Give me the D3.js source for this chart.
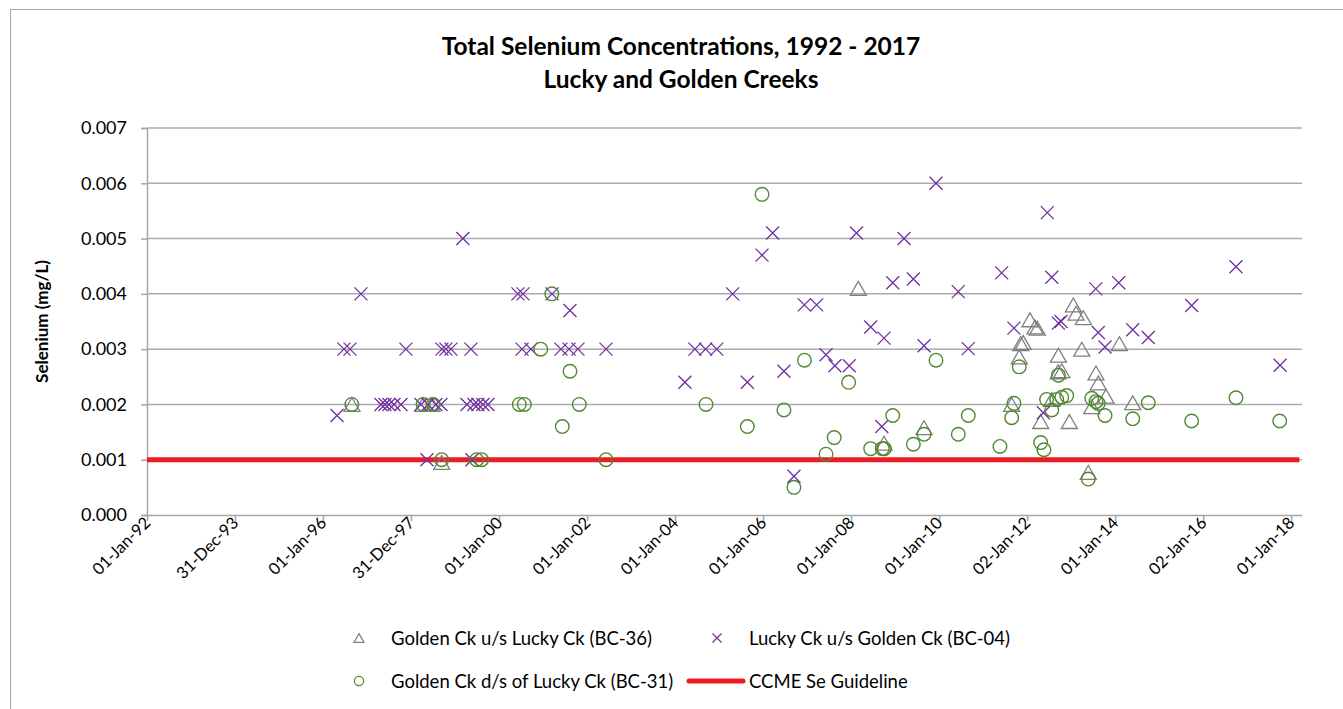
<!DOCTYPE html>
<html>
<head>
<meta charset="utf-8">
<script src="https://cdn.jsdelivr.net/npm/d3@7"></script>
<style>
body { margin: 0; background: #fff; }
text { font-family: Lato, "Open Sans", sans-serif; fill: #000; }
</style>
</head>
<body>
<div id="chart"></div>
<script>
// Golden Ck u/s Lucky Ck (BC-36)
var bc36Dates = ["1996-08-28","1998-04-10","1998-06-23","1998-09-12","2008-03-01","2008-10-01","2009-08-29",
  "2011-08-26","2011-10-28","2011-11-09","2011-11-30","2012-01-25","2012-03-07","2012-03-26","2012-04-23",
  "2012-07-24","2012-09-17","2012-09-15","2012-10-15","2012-12-17","2013-01-19","2013-02-11","2013-03-30",
  "2013-04-12","2013-05-23","2013-06-21","2013-07-26","2013-08-14","2013-10-17","2014-02-05","2014-05-27"];
var bc36Values = [0.002,0.002,0.002,0.00095,0.0041,0.0013,0.00158,
  0.002,0.00286,0.0031,0.00312,0.00353,0.0034,0.00338,0.00169,
  0.00209,0.00289,0.00259,0.00261,0.00169,0.0038,0.00365,0.003,
  0.00357,0.00077,0.00196,0.00257,0.00239,0.00215,0.0031,0.00203];

// Lucky Ck u/s Golden Ck (BC-04)
var bc04Dates = ["1996-04-26","1996-06-23","1996-08-12","1996-11-11","1997-04-26","1997-05-29","1997-07-01",
  "1997-08-12","1997-10-09","1997-11-19","1998-03-24","1998-05-13","1998-05-21","1998-07-26","1998-09-06",
  "1998-09-14","1998-10-17","1998-11-28","1999-03-07","1999-04-10","1999-05-13","1999-05-21","1999-06-07",
  "1999-07-10","1999-08-20","1999-10-01","2000-06-06","2000-07-18","2000-07-10","2000-09-22","2001-03-16",
  "2001-05-29","2001-08-04","2001-08-12","2001-10-17","2002-06-07","2004-03-23","2004-06-14","2004-09-11",
  "2004-12-12","2005-04-23","2005-08-23","2005-12-23","2006-03-21","2006-06-23","2006-09-14","2006-12-09",
  "2007-03-21","2007-06-07","2007-08-20","2007-12-17","2008-02-15","2008-06-12","2008-09-12","2008-10-01",
  "2008-12-12","2009-03-16","2009-06-01","2009-08-29","2009-12-06","2010-06-09","2010-08-31","2011-06-04",
  "2011-09-14","2012-05-15","2012-06-17","2012-07-24","2012-09-17","2012-10-09","2013-07-24","2013-08-14",
  "2013-10-09","2014-01-31","2014-05-27","2014-10-03","2015-09-28","2016-09-30","2017-10-01"];
var bc04Values = [0.0018,0.003,0.003,0.004,0.002,0.002,0.002,
  0.002,0.002,0.003,0.002,0.001,0.002,0.002,0.002,
  0.003,0.003,0.003,0.005,0.002,0.003,0.001,0.002,
  0.002,0.002,0.002,0.004,0.004,0.003,0.003,0.004,
  0.003,0.003,0.0037,0.003,0.003,0.0024,0.003,0.003,
  0.003,0.004,0.0024,0.0047,0.0051,0.0026,0.0007,0.0038,
  0.0038,0.0029,0.0027,0.0027,0.0051,0.0034,0.0016,0.0032,
  0.0042,0.005,0.00427,0.00306,0.006,0.00404,0.00301,0.00438,
  0.00338,0.00185,0.00547,0.0043,0.00347,0.0035,0.00409,0.0033,
  0.00304,0.0042,0.00335,0.00321,0.00379,0.00449,0.00271];

// Golden Ck d/s of Lucky Ck (BC-31)
var bc31Dates = ["1996-08-27","1998-04-11","1998-07-04","1998-09-12","1999-06-29","1999-08-10","2000-06-17",
  "2000-07-29","2000-12-12","2001-03-14","2001-06-09","2001-08-12","2001-10-28","2002-06-07","2004-09-14",
  "2005-08-23","2005-12-23","2006-06-23","2006-09-14","2006-12-10","2007-06-07","2007-08-14","2007-12-12",
  "2008-06-12","2008-09-16","2008-10-03","2008-12-12","2009-06-01","2009-08-29","2009-12-06","2010-06-09",
  "2010-08-31","2011-05-21","2011-08-26","2011-09-14","2011-10-28","2012-04-23","2012-05-20","2012-06-11",
  "2012-07-24","2012-09-03","2012-09-17","2012-10-15","2012-11-25","2013-05-23","2013-06-21","2013-07-26",
  "2013-08-14","2013-10-09","2014-05-27","2014-10-03","2015-09-28","2016-09-30","2017-09-28"];
var bc31Values = [0.002,0.002,0.002,0.001,0.001,0.001,0.002,
  0.002,0.003,0.004,0.0016,0.0026,0.002,0.001,0.002,
  0.0016,0.0058,0.0019,0.0005,0.0028,0.0011,0.0014,0.0024,
  0.0012,0.0012,0.0012,0.0018,0.00128,0.00146,0.0028,0.00146,
  0.0018,0.00124,0.00176,0.00202,0.00268,0.00131,0.00118,0.00209,
  0.0019,0.00209,0.00253,0.00213,0.00216,0.00065,0.00211,0.00205,
  0.00202,0.0018,0.00174,0.00203,0.0017,0.00212,0.0017];

// CCME Se Guideline
var guideDates = ["1992-01-01","2018-03-10"];
var guideValues = [0.001,0.001];

var xTickDates = ["1992-01-01","1993-12-31","1996-01-01","1997-12-31","2000-01-01","2002-01-01","2004-01-01",
  "2006-01-01","2008-01-01","2010-01-01","2012-01-02","2014-01-01","2016-01-02","2018-01-01"];
var xDomain = ["1992-01-01","2018-04-01"];
var yTicks = [0,0.001,0.002,0.003,0.004,0.005,0.006,0.007];

var W = 1343, H = 709;
var margin = {top: 128, right: 41, bottom: 194, left: 147};
var width = W - margin.left - margin.right,
    height = H - margin.top - margin.bottom;

var parse = d3.timeParse("%Y-%m-%d");
var fmt = d3.timeFormat("%d-%b-%y");

var x = d3.scaleTime().domain(xDomain.map(parse)).range([0, width]);
var y = d3.scaleLinear().domain([0, 0.007]).range([height, 0]);

function zip(dates, values) {
  return dates.map(function(d, i) { return {date: parse(d), value: values[i]}; });
}

var svg = d3.select("#chart").append("svg")
  .attr("width", W).attr("height", H);

// chart area border
svg.append("rect")
  .attr("x", 10.5).attr("y", 9.5)
  .attr("width", W).attr("height", H)
  .attr("fill", "none").attr("stroke", "#a6a6a6").attr("stroke-width", 1);

svg.append("text").attr("x", 681).attr("y", 55)
  .attr("text-anchor", "middle").attr("font-size", "24.5px").attr("font-weight", "bold")
  .text("Total Selenium Concentrations, 1992 - 2017");
svg.append("text").attr("x", 681).attr("y", 88)
  .attr("text-anchor", "middle").attr("font-size", "24.5px").attr("font-weight", "bold")
  .text("Lucky and Golden Creeks");

var g = svg.append("g")
  .attr("transform", "translate(" + margin.left + "," + margin.top + ")");

// gridlines
g.selectAll(".grid").data(yTicks.filter(function(d) { return d > 0; }))
  .enter().append("line")
  .attr("x1", 0).attr("x2", width)
  .attr("y1", function(d) { return y(d); }).attr("y2", function(d) { return y(d); })
  .attr("stroke", "#ababab").attr("stroke-width", 1.5);

// y axis
var yAxis = g.append("g")
  .call(d3.axisLeft(y).tickValues(yTicks).tickFormat(d3.format(".3f")).tickSize(6).tickPadding(14));
yAxis.select(".domain").attr("stroke", "#a6a6a6").attr("stroke-width", 1.5);
yAxis.selectAll(".tick line").attr("stroke", "#a6a6a6").attr("stroke-width", 1.5);
yAxis.selectAll("text").attr("font-size", "18px").attr("font-family", "Lato, sans-serif").attr("fill", "#000");

// x axis
var xAxis = g.append("g")
  .attr("transform", "translate(0," + height + ")")
  .call(d3.axisBottom(x).tickValues(xTickDates.map(parse)).tickFormat(fmt).tickSize(6).tickSizeOuter(0));
xAxis.select(".domain").attr("stroke", "#a6a6a6").attr("stroke-width", 1.5);
xAxis.selectAll(".tick line").attr("stroke", "#a6a6a6").attr("stroke-width", 1.5);
xAxis.selectAll("text")
  .attr("font-size", "16.5px").attr("font-family", "Lato, sans-serif").attr("fill", "#000")
  .attr("text-anchor", "end")
  .attr("dy", null)
  .attr("transform", "translate(1,6) rotate(-45)")
  .attr("y", 0).attr("x", 0)
  .attr("dominant-baseline", "middle");

// y axis title
svg.append("text")
  .attr("transform", "translate(48," + (margin.top + height / 2) + ") rotate(-90)")
  .attr("text-anchor", "middle").attr("font-size", "17px").attr("font-weight", "bold")
  .text("Selenium (mg/L)");

// guideline
var line = d3.line()
  .x(function(d) { return x(d.date); })
  .y(function(d) { return y(d.value); });
g.append("path").datum(zip(guideDates, guideValues))
  .attr("d", line).attr("fill", "none")
  .attr("stroke", "#ed1c24").attr("stroke-width", 5);

function triPath(s) {
  var h = s * Math.sqrt(3) / 2;
  return "M0," + (-h / 2) + "L" + (s / 2) + "," + (h / 2) + "L" + (-s / 2) + "," + (h / 2) + "Z";
}
function xPath(s) {
  var r = s / 2;
  return "M" + (-r) + "," + (-r) + "L" + r + "," + r + "M" + r + "," + (-r) + "L" + (-r) + "," + r;
}

// BC-36 triangles
g.selectAll(".bc36").data(zip(bc36Dates, bc36Values))
  .enter().append("path")
  .attr("transform", function(d) { return "translate(" + x(d.date) + "," + y(d.value) + ")"; })
  .attr("d", triPath(16))
  .attr("fill", "none").attr("stroke", "#7f7f7f").attr("stroke-width", 1.3);

// BC-04 crosses
g.selectAll(".bc04").data(zip(bc04Dates, bc04Values))
  .enter().append("path")
  .attr("transform", function(d) { return "translate(" + x(d.date) + "," + y(d.value) + ")"; })
  .attr("d", xPath(13))
  .attr("fill", "none").attr("stroke", "#7030a0").attr("stroke-width", 1.3);

// BC-31 circles
g.selectAll(".bc31").data(zip(bc31Dates, bc31Values))
  .enter().append("circle")
  .attr("cx", function(d) { return x(d.date); })
  .attr("cy", function(d) { return y(d.value); })
  .attr("r", 6.8)
  .attr("fill", "none").attr("stroke", "#4f8a32").attr("stroke-width", 1.4);

// legend
var legend = [
  {name: "Golden Ck u/s Lucky Ck (BC-36)", type: "tri", lx: 359, ly: 638},
  {name: "Lucky Ck u/s Golden Ck (BC-04)", type: "x", lx: 717, ly: 638},
  {name: "Golden Ck d/s of Lucky Ck (BC-31)", type: "circle", lx: 359, ly: 681},
  {name: "CCME Se Guideline", type: "line", lx: 717, ly: 681}
];
legend.forEach(function(l) {
  if (l.type == "tri") {
    svg.append("path").attr("transform", "translate(" + l.lx + "," + l.ly + ")")
      .attr("d", triPath(10)).attr("fill", "none").attr("stroke", "#7f7f7f").attr("stroke-width", 1.2);
  } else if (l.type == "x") {
    svg.append("path").attr("transform", "translate(" + l.lx + "," + l.ly + ")")
      .attr("d", xPath(9)).attr("fill", "none").attr("stroke", "#7030a0").attr("stroke-width", 1.2);
  } else if (l.type == "circle") {
    svg.append("circle").attr("cx", l.lx).attr("cy", l.ly).attr("r", 4.6)
      .attr("fill", "none").attr("stroke", "#4f8a32").attr("stroke-width", 1.2);
  } else {
    svg.append("line").attr("x1", l.lx - 28).attr("x2", l.lx + 26)
      .attr("y1", l.ly).attr("y2", l.ly)
      .attr("stroke", "#ed1c24").attr("stroke-width", 5).attr("stroke-linecap", "round");
  }
  svg.append("text").attr("x", l.lx + 32).attr("y", l.ly)
    .attr("dominant-baseline", "central").attr("font-size", "18.5px")
    .text(l.name);
});
</script>
</body>
</html>
